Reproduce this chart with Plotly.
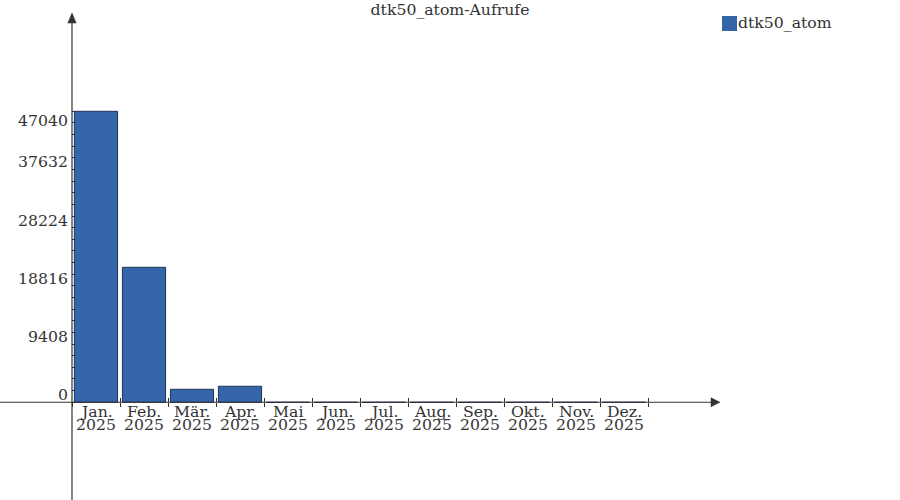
import plotly.graph_objects as go

# chart data
months = ["Jan.", "Feb.", "Mär.", "Apr.", "Mai", "Jun.", "Jul.", "Aug.", "Sep.", "Okt.", "Nov.", "Dez."]
years = ["2025"] * 12
calls = [47040, 21820, 2100, 2590, 0, 0, 0, 0, 0, 0, 0, 0]
y_ticks = [0, 9408, 18816, 28224, 37632, 47040]
y_tick_labels = ["0", "9408", "18816", "28224", "37632", "47040"]
series_name = "dtk50_atom"
title = "dtk50_atom-Aufrufe"

BAR = "#3465a8"
EDGE = "#1f3556"
INK = "#333333"
FONT = dict(family="DejaVu Serif", size=15.7, color=INK)

y_range = [-15800, 62930]
x_range = [-0.5, 13]
zero_pos = (0 - y_range[0]) / (y_range[1] - y_range[0])

x_idx = list(range(len(months)))

# small ticks: 5 per labelled step, only between first and last label
sub = 5
step = y_ticks[1] - y_ticks[0]
y_tick_pos = [y_ticks[0] + k * step / sub for k in range((len(y_ticks) - 1) * sub + 1)]
x_bounds = [i - 0.5 for i in range(len(months) + 1)]

fig = go.Figure()
fig.add_trace(go.Bar(
    x=x_idx, y=calls, name=series_name, width=0.9,
    marker=dict(color=BAR, line=dict(color=EDGE, width=1)),
    showlegend=False, hoverinfo="x+y",
))

# month / year labels under the zero line
ann = []
for i, (m, yr) in enumerate(zip(months, years)):
    ann.append(dict(x=i, y=0, xref="x", yref="y", text=m, showarrow=False,
                    yanchor="middle", yshift=-9, font=FONT))
    ann.append(dict(x=i, y=0, xref="x", yref="y", text=yr, showarrow=False,
                    yanchor="middle", yshift=-22, font=FONT))

# y labels sit above their tick, the top one below it
for j, (v, lab) in enumerate(zip(y_ticks, y_tick_labels)):
    last = j == len(y_ticks) - 1
    ann.append(dict(x=0, y=v, xref="paper", yref="y", text=lab, showarrow=False,
                    xanchor="right", xshift=-2,
                    yanchor="top" if last else "bottom",
                    yshift=2 if last else -4, font=FONT))

# legend by hand
ann.append(dict(x=1.0278, y=0.9795, xref="paper", yref="paper", text=series_name,
                showarrow=False, xanchor="left", yanchor="middle", xshift=-2, font=FONT))

shapes = [
    # x axis line, running left past the y axis
    dict(type="line", xref="paper", yref="y", x0=-72 / 648, x1=1 - 8 / 648, y0=0, y1=0,
         line=dict(color=INK, width=1.2), layer="above"),
    # y axis line
    dict(type="line", xref="paper", yref="paper", x0=0, x1=0, y0=0, y1=1 - 8 / 487,
         line=dict(color=INK, width=1.2), layer="above"),
    # arrow heads
    dict(type="path", xref="paper", yref="y", xsizemode="pixel", ysizemode="pixel",
         xanchor=1, yanchor=0, path="M0,0 L-9,4.5 L-9,-4.5 Z",
         fillcolor=INK, line=dict(color=INK, width=0.5), layer="above"),
    dict(type="path", xref="paper", yref="paper", xsizemode="pixel", ysizemode="pixel",
         xanchor=0, yanchor=1, path="M0,0 L4.2,-10 L-4.2,-10 Z",
         fillcolor=INK, line=dict(color=INK, width=0.5), layer="above"),
    # legend swatch
    dict(type="rect", xref="paper", yref="paper", x0=1.00309, x1=1.02623,
         y0=0.96304, y1=0.99384, fillcolor=BAR, line=dict(width=0)),
]

tick_axis = dict(range=x_range, tickmode="array", tickvals=x_bounds, showticklabels=False,
                 showgrid=False, zeroline=False, showline=False,
                 anchor="free", position=zero_pos, ticklen=4, tickwidth=1, tickcolor=INK)

fig.update_layout(
    width=900, height=500,
    margin=dict(l=72, r=180, t=13, b=0),
    paper_bgcolor="white", plot_bgcolor="white",
    font=FONT,
    title=dict(text=title, x=0.5, xref="container", y=1 - 9 / 500, yref="container",
               xanchor="center", yanchor="middle", font=FONT),
    xaxis=dict(**tick_axis, ticks="outside"),
    xaxis2=dict(**tick_axis, ticks="inside", overlaying="x", matches="x"),
    yaxis=dict(range=y_range, tickmode="array", tickvals=y_tick_pos, showticklabels=False,
               ticks="inside", ticklen=3, tickwidth=1, tickcolor=INK,
               showgrid=False, zeroline=False, showline=False),
    annotations=ann,
    shapes=shapes,
    showlegend=False,
    bargap=0.1,
)

# empty trace so the second x axis is drawn
fig.add_trace(go.Scatter(x=[None], y=[None], xaxis="x2", showlegend=False, hoverinfo="skip"))

# drop the default page margin so the figure starts at the window corner
fig.write_html("out.html", config={"displayModeBar": False},
               post_script="document.body.style.margin='0';")
